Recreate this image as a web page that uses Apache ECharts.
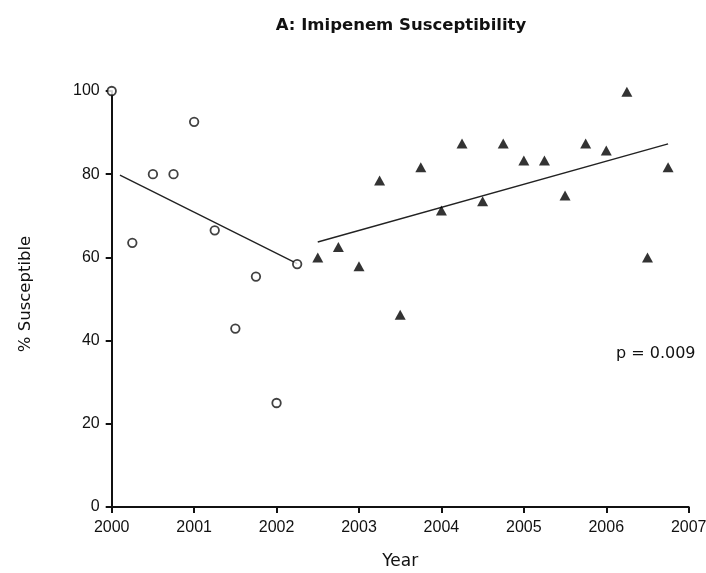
<!DOCTYPE html>
<html><head><meta charset="utf-8">
<script src="https://cdn.jsdelivr.net/npm/echarts@6/dist/echarts.min.js"></script>
<style>html,body{margin:0;padding:0;background:#fff}#c{width:706px;height:573px}</style>
</head><body><div id="c"></div>
<script>
var circleYears = [2000, 2000.25, 2000.5, 2000.75, 2001, 2001.25, 2001.5, 2001.75, 2002, 2002.25];
var circleValues = [100, 63.5, 80, 80, 92.6, 66.5, 42.9, 55.4, 25, 58.4];
var triYears = [2002.5, 2002.75, 2003, 2003.25, 2003.5, 2003.75, 2004, 2004.25, 2004.5, 2004.75, 2005, 2005.25, 2005.5, 2005.75, 2006, 2006.25, 2006.5, 2006.75];
var triValues = [60, 62.5, 57.9, 78.5, 46.2, 81.7, 71.3, 87.4, 73.5, 87.4, 83.3, 83.3, 74.9, 87.4, 85.7, 99.8, 60, 81.7];
var trend1Years = [2000.1, 2002.25];
var trend1Values = [79.8, 58.5];
var trend2Years = [2002.5, 2006.75];
var trend2Values = [63.7, 87.3];
var xTicks = [2000, 2001, 2002, 2003, 2004, 2005, 2006, 2007];
var yTicks = [0, 20, 40, 60, 80, 100];
var titleText = 'A: Imipenem Susceptibility';
var xName = 'Year';
var yName = '% Susceptible';
var pText = 'p = 0.009';

function zip(a, b) { return a.map(function (v, i) { return [v, b[i]]; }); }
var tickFont = 'Liberation Sans, Arial, sans-serif';
var textFont = 'DejaVu Sans, sans-serif';
var chart = echarts.init(document.getElementById('c'));
chart.setOption({
  animation: false,
  backgroundColor: '#fff',
  title: { text: titleText, left: 396, top: 12, textAlign: 'center',
    textStyle: { fontFamily: textFont, fontSize: 16.5, fontWeight: 'bold', color: '#111' } },
  grid: { left: 111.7, right: 17.3, top: 91, bottom: 66, containLabel: false, outerBoundsMode: 'none' },
  xAxis: {
    type: 'value', min: xTicks[0], max: xTicks[xTicks.length - 1], interval: 1,
    name: xName, nameLocation: 'middle', nameGap: 46,
    nameTextStyle: { fontFamily: textFont, fontSize: 17, color: '#111' },
    axisLine: { lineStyle: { color: '#111', width: 2 } },
    axisTick: { length: 6, lineStyle: { color: '#111', width: 2 } },
    axisLabel: { fontFamily: tickFont, fontSize: 16, color: '#111', margin: 13, formatter: function (v) { return String(v); } },
    splitLine: { show: false }
  },
  yAxis: {
    type: 'value', min: yTicks[0], max: yTicks[yTicks.length - 1], interval: 20,
    name: yName, nameLocation: 'middle', nameGap: 77, nameRotate: 90,
    nameTextStyle: { fontFamily: textFont, fontSize: 16.5, color: '#111', padding: [0, 0, 0, 10] },
    axisLine: { lineStyle: { color: '#111', width: 2 } },
    axisTick: { length: 6, lineStyle: { color: '#111', width: 2 } },
    axisLabel: { fontFamily: tickFont, fontSize: 16, color: '#111', margin: 12 },
    splitLine: { show: false }
  },
  graphic: [{ type: 'text', left: 616, top: 346,
    style: { text: pText, font: '16px ' + textFont, fill: '#111' } }],
  series: [
    { type: 'line', data: zip(trend1Years, trend1Values), symbol: 'none', silent: true,
      lineStyle: { color: '#222', width: 1.4 } },
    { type: 'line', data: zip(trend2Years, trend2Values), symbol: 'none', silent: true,
      lineStyle: { color: '#222', width: 1.4 } },
    { type: 'scatter', data: zip(circleYears, circleValues), clip: false, symbol: 'circle', symbolSize: 8.5,
      itemStyle: { color: '#fff', borderColor: '#111', borderWidth: 1.8 }, z: 3 },
    { type: 'scatter', data: zip(triYears, triValues), clip: false, symbol: 'triangle', symbolSize: [11, 10],
      itemStyle: { color: '#000' }, z: 3 }
  ]
});
</script></body></html>
